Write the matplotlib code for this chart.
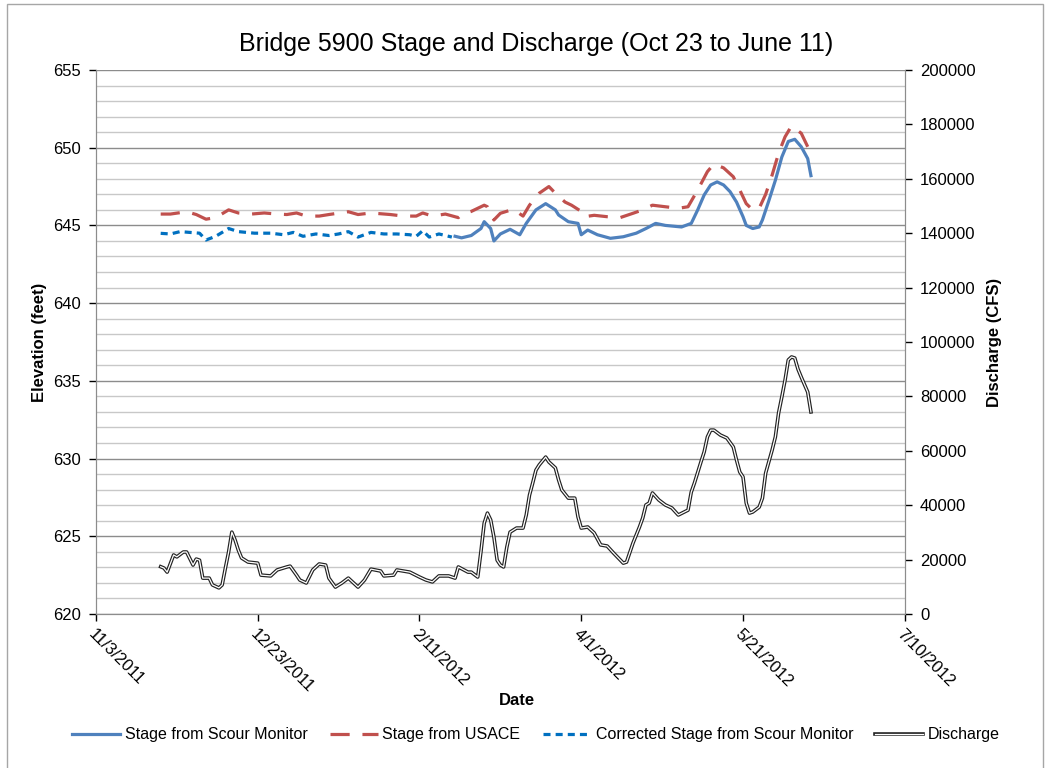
import matplotlib.pyplot as plt
import matplotlib.lines as mlines
import pandas as pd
from matplotlib.patches import Rectangle

plt.rcParams['font.family'] = ['Liberation Sans', 'DejaVu Sans']

# Discharge (CFS), right axis
q_dates = ['2011-11-23', '2011-11-24', '2011-11-25', '2011-11-27', '2011-11-28', '2011-11-30',
           '2011-12-01', '2011-12-03', '2011-12-04', '2011-12-05', '2011-12-06', '2011-12-08',
           '2011-12-09', '2011-12-11', '2011-12-12', '2011-12-13', '2011-12-14', '2011-12-15',
           '2011-12-16', '2011-12-17', '2011-12-18', '2011-12-20', '2011-12-23', '2011-12-24',
           '2011-12-27', '2011-12-29', '2012-01-01', '2012-01-02', '2012-01-04', '2012-01-05',
           '2012-01-07', '2012-01-09', '2012-01-11', '2012-01-13', '2012-01-14', '2012-01-16',
           '2012-01-18', '2012-01-20', '2012-01-23', '2012-01-25', '2012-01-27', '2012-01-30',
           '2012-01-31', '2012-02-03', '2012-02-04', '2012-02-08', '2012-02-11', '2012-02-13',
           '2012-02-15', '2012-02-17', '2012-02-20', '2012-02-22', '2012-02-23', '2012-02-26',
           '2012-02-27', '2012-02-29', '2012-03-01', '2012-03-02', '2012-03-03', '2012-03-04',
           '2012-03-05', '2012-03-06', '2012-03-07', '2012-03-08', '2012-03-09', '2012-03-10',
           '2012-03-12', '2012-03-14', '2012-03-15', '2012-03-16', '2012-03-17', '2012-03-18',
           '2012-03-19', '2012-03-21', '2012-03-22', '2012-03-24', '2012-03-25', '2012-03-26',
           '2012-03-28', '2012-03-30', '2012-03-31', '2012-04-01', '2012-04-03', '2012-04-05',
           '2012-04-07', '2012-04-09', '2012-04-11', '2012-04-14', '2012-04-15', '2012-04-17',
           '2012-04-18', '2012-04-19', '2012-04-20', '2012-04-21', '2012-04-22', '2012-04-23',
           '2012-04-25', '2012-04-27', '2012-04-29', '2012-05-01', '2012-05-04', '2012-05-05',
           '2012-05-06', '2012-05-08', '2012-05-09', '2012-05-10', '2012-05-11', '2012-05-12',
           '2012-05-14', '2012-05-16', '2012-05-18', '2012-05-19', '2012-05-20', '2012-05-21',
           '2012-05-22', '2012-05-23', '2012-05-24', '2012-05-26', '2012-05-27', '2012-05-28',
           '2012-05-30', '2012-05-31', '2012-06-01', '2012-06-02', '2012-06-03', '2012-06-04',
           '2012-06-05', '2012-06-06', '2012-06-07', '2012-06-08', '2012-06-10', '2012-06-11']
discharge = [17400, 16900, 15400, 21700, 21000, 22800,
             22800, 18000, 20200, 19800, 13200, 13200,
             10700, 9600, 10700, 16900, 22800, 30100,
             27200, 23500, 20600, 19100, 18700, 14300,
             14000, 16200, 17300, 17600, 14300, 12500,
             11400, 16200, 18400, 18000, 13200, 9900,
             11400, 13200, 9900, 12500, 16500, 15800,
             14000, 14300, 16200, 15400, 13600, 12500,
             11800, 14000, 14000, 13200, 17300, 15400,
             15400, 13600, 23000, 33400, 37100, 34600,
             28300, 19800, 18000, 17300, 24600, 30100,
             31600, 31600, 36400, 43700, 48200, 52900,
             54800, 57700, 55900, 53700, 49300, 45600,
             42600, 42600, 35700, 31600, 32000, 29800,
             25400, 25000, 22400, 18700, 19100, 26100,
             29000, 32000, 35300, 40100, 40800, 44500,
             41900, 40100, 39000, 36400, 38200, 44800,
             48200, 55900, 59600, 65100, 67600, 67600,
             65800, 64700, 61400, 56600, 52200, 50400,
             40800, 37100, 37500, 39300, 42600, 51800,
             60300, 65100, 73900, 79800, 86000, 93400,
             94500, 94100, 90000, 87100, 81600, 74300]

# Corrected stage from scour monitor (feet)
corr_dates = ['2011-11-23', '2011-11-26', '2011-11-29', '2011-12-02', '2011-12-05', '2011-12-07',
              '2011-12-10', '2011-12-14', '2011-12-17', '2011-12-22', '2011-12-27', '2011-12-31',
              '2012-01-03', '2012-01-06', '2012-01-10', '2012-01-14', '2012-01-17', '2012-01-20',
              '2012-01-23', '2012-01-27', '2012-01-31', '2012-02-04', '2012-02-08', '2012-02-10',
              '2012-02-12', '2012-02-14', '2012-02-17', '2012-02-21']
corr_stage = [644.49, 644.45, 644.6, 644.55, 644.5, 644.06,
              644.3, 644.8, 644.6, 644.5, 644.5, 644.4,
              644.55, 644.3, 644.45, 644.35, 644.45, 644.6,
              644.25, 644.55, 644.45, 644.45, 644.4, 644.3,
              644.66, 644.25, 644.45, 644.25]

# Stage from scour monitor (feet)
scour_dates = ['2012-02-22', '2012-02-24', '2012-02-27', '2012-02-28', '2012-03-01', '2012-03-02',
               '2012-03-04', '2012-03-05', '2012-03-07', '2012-03-10', '2012-03-13', '2012-03-15',
               '2012-03-18', '2012-03-21', '2012-03-24', '2012-03-25', '2012-03-28', '2012-03-31',
               '2012-04-01', '2012-04-03', '2012-04-06', '2012-04-10', '2012-04-14', '2012-04-18',
               '2012-04-21', '2012-04-24', '2012-04-27', '2012-05-02', '2012-05-05', '2012-05-07',
               '2012-05-09', '2012-05-11', '2012-05-13', '2012-05-15', '2012-05-17', '2012-05-19',
               '2012-05-21', '2012-05-22', '2012-05-24', '2012-05-26', '2012-05-27', '2012-05-29',
               '2012-05-31', '2012-06-02', '2012-06-04', '2012-06-06', '2012-06-08', '2012-06-10',
               '2012-06-11']
scour_stage = [644.3, 644.2, 644.35, 644.5, 644.8, 645.24,
               644.8, 644.0, 644.45, 644.75, 644.4, 645.13,
               646.0, 646.4, 646.0, 645.67, 645.24, 645.13,
               644.4, 644.7, 644.4, 644.17, 644.27, 644.5,
               644.8, 645.13, 645.0, 644.9, 645.13, 646.0,
               646.96, 647.6, 647.8, 647.6, 647.17, 646.5,
               645.56, 645.0, 644.8, 644.9, 645.35, 646.6,
               647.9, 649.4, 650.4, 650.54, 650.06, 649.3,
               648.2]

# Stage from USACE (feet)
usace_dates = ['2011-11-23', '2011-11-26', '2011-12-01', '2011-12-04', '2011-12-07', '2011-12-10',
               '2011-12-14', '2011-12-17', '2011-12-21', '2011-12-25', '2011-12-29', '2012-01-01',
               '2012-01-04', '2012-01-07', '2012-01-11', '2012-01-14', '2012-01-20', '2012-01-23',
               '2012-01-27', '2012-02-02', '2012-02-06', '2012-02-10', '2012-02-12', '2012-02-15',
               '2012-02-19', '2012-02-23', '2012-02-24', '2012-02-27', '2012-03-02', '2012-03-03',
               '2012-03-05', '2012-03-07', '2012-03-11', '2012-03-14', '2012-03-16', '2012-03-19',
               '2012-03-22', '2012-03-24', '2012-03-27', '2012-03-29', '2012-04-01', '2012-04-02',
               '2012-04-05', '2012-04-09', '2012-04-13', '2012-04-17', '2012-04-20', '2012-04-23',
               '2012-04-27', '2012-05-01', '2012-05-04', '2012-05-07', '2012-05-10', '2012-05-12',
               '2012-05-15', '2012-05-18', '2012-05-20', '2012-05-22', '2012-05-24', '2012-05-26',
               '2012-05-28', '2012-05-30', '2012-06-01', '2012-06-03', '2012-06-05', '2012-06-08',
               '2012-06-10']
usace_stage = [645.73, 645.73, 645.88, 645.7, 645.4, 645.5,
               646.0, 645.8, 645.73, 645.8, 645.73, 645.7,
               645.8, 645.6, 645.6, 645.7, 645.88, 645.7,
               645.8, 645.7, 645.6, 645.6, 645.8, 645.6,
               645.73, 645.5, 645.7, 645.9, 646.3, 646.2,
               645.35, 645.78, 646.04, 645.6, 646.3, 647.07,
               647.5, 647.07, 646.5, 646.3, 645.9, 645.56,
               645.65, 645.56, 645.5, 645.78, 646.0, 646.3,
               646.2, 646.1, 646.2, 647.28, 648.46, 648.95,
               648.7, 648.13, 647.28, 646.4, 646.0, 646.1,
               647.0, 648.24, 649.64, 650.7, 651.4, 650.93,
               650.06]

grid_major = '#8c8c8c'
grid_minor = '#c8c8c8'

fig = plt.figure(figsize=(10.49, 7.68), dpi=100)
ax = fig.add_axes([0.0915, 0.2005, 0.771, 0.7084])
ax2 = ax.twinx()

ax.set_ylim(620, 655)
ax.set_yticks(range(620, 656, 5))
ax.set_yticks(range(620, 656, 1), minor=True)
ax.grid(True, which='major', axis='y', color=grid_major, lw=1.0)
ax.grid(True, which='minor', axis='y', color=grid_minor, lw=1.0)
ax.set_axisbelow(True)

ax.plot(pd.to_datetime(usace_dates), usace_stage, color='#C0504D', lw=2.3,
        dashes=(6, 4), label='Stage from USACE', zorder=3)
ax.plot(pd.to_datetime(scour_dates), scour_stage, color='#4F81BD', lw=2.3,
        label='Stage from Scour Monitor', zorder=3)
ax.plot(pd.to_datetime(corr_dates), corr_stage, color='#0070C0', lw=2.3,
        dashes=(2.2, 1.6), label='Corrected Stage from Scour Monitor', zorder=3)

qd = pd.to_datetime(q_dates)
ax2.plot(qd, discharge, color='#222222', lw=2.6, zorder=3)
ax2.plot(qd, discharge, color='white', lw=0.9, zorder=4)
ax2.set_ylim(0, 200000)
ax2.set_yticks(range(0, 200001, 20000))

start = pd.Timestamp('2011-11-03')
ticks = pd.date_range(start, periods=6, freq='50D')
ax.set_xlim(start, pd.Timestamp('2012-07-10'))
ax.set_xticks(ticks)
ax.set_xticklabels([f'{d.month}/{d.day}/{d.year}' for d in ticks], rotation=-45,
                   ha='left', va='top', rotation_mode='anchor')

for a in (ax, ax2):
    for s in a.spines.values():
        s.set_color(grid_major)
    a.spines['top'].set_visible(False)
    a.tick_params(colors='black', labelsize=12, length=5, width=1, pad=6)
    a.tick_params(axis='both', which='minor', length=0)
ax.tick_params(axis='x', pad=4)
for t in ax.get_xticklines() + ax.get_yticklines() + ax2.get_yticklines():
    t.set_color(grid_major)

ax.set_ylabel('Elevation (feet)', fontsize=12, fontweight='bold', labelpad=4)
ax2.set_ylabel('Discharge (CFS)', fontsize=12, fontweight='bold', labelpad=8)
ax.set_xlabel('Date', fontsize=12, fontweight='bold', labelpad=0)
ax.xaxis.set_label_coords(0.52, -0.145)
ax.set_title('Bridge 5900 Stage and Discharge (Oct 23 to June 11)', fontsize=18, pad=14, x=0.544)

h1 = mlines.Line2D([], [], color='#4F81BD', lw=2.3)
h2 = mlines.Line2D([], [], color='#C0504D', lw=2.3, dashes=(6, 4))
h3 = mlines.Line2D([], [], color='#0070C0', lw=2.3, dashes=(2.2, 1.6))
h4a = mlines.Line2D([], [], color='#222222', lw=2.6)
h4b = mlines.Line2D([], [], color='white', lw=0.9)
fig.legend([h1, h2, h3, (h4a, h4b)],
           ['Stage from Scour Monitor', 'Stage from USACE',
            'Corrected Stage from Scour Monitor', 'Discharge'],
           loc='center', bbox_to_anchor=(0.511, 0.043), ncol=4, frameon=False,
           fontsize=11.5, handlelength=3, columnspacing=1.4, handletextpad=0.3)

fig.patches.append(Rectangle((7 / 1049, -0.01), 1036 / 1049, 1.005, transform=fig.transFigure,
                             fill=False, edgecolor='#a6a6a6', lw=1))

fig.savefig('out.png', dpi=100)
